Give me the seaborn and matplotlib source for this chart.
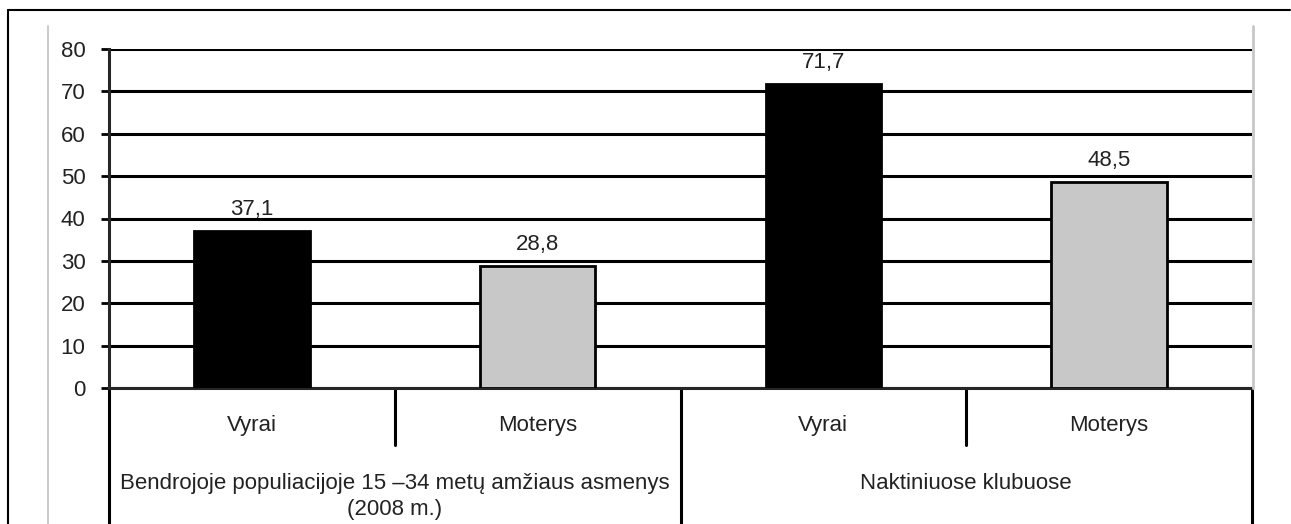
import matplotlib
matplotlib.use("Agg")
import matplotlib.pyplot as plt
import matplotlib.transforms as mtransforms
from matplotlib.lines import Line2D
import pandas as pd
import seaborn as sns

sns.set_style("white")
plt.rcParams['font.family'] = ['Liberation Sans', 'DejaVu Sans']

# data
bar_keys = ["g1_v", "g1_m", "g2_v", "g2_m"]
sub_labels = ["Vyrai", "Moterys", "Vyrai", "Moterys"]
group_labels = ["Bendrojoje populiacijoje 15 \u201334 metų amžiaus asmenys\n(2008 m.)",
                "Naktiniuose klubuose"]
values = [37.1, 28.8, 71.7, 48.5]
value_labels = ["37,1", "28,8", "71,7", "48,5"]
colors = ["#000000", "#c8c8c8", "#000000", "#c8c8c8"]

df = pd.DataFrame({"key": bar_keys, "value": values})

W, H = 1291, 524
FS = 16
fig = plt.figure(figsize=(W / 100, H / 100), dpi=100)
ax = fig.add_axes([109 / W, (H - 388) / H, (1252 - 109) / W, (388 - 49) / H])

sns.barplot(data=df, x="key", y="value", hue="key", order=bar_keys,
            palette=dict(zip(bar_keys, colors)), width=0.405,
            edgecolor="black", linewidth=2, legend=False, ax=ax, zorder=3)

ax.set_ylim(0, 80)
ax.set_xlim(-0.5, 3.5)
ax.set_yticks(range(0, 81, 10))
ax.yaxis.grid(True, color="black", linewidth=2.2)
ax.set_axisbelow(True)
ax.tick_params(axis="y", left=True, length=6, width=2, color="black",
               labelsize=FS, pad=11, labelcolor="#222222")
ax.set_xticks([])
ax.set_xlabel("")
ax.set_ylabel("")
for s in ["top", "right"]:
    ax.spines[s].set_visible(False)
ax.spines["left"].set_linewidth(2.2)
ax.spines["bottom"].set_linewidth(2.2)
ax.spines["left"].set_bounds(0, 80)

for i, (v, lab) in enumerate(zip(values, value_labels)):
    ax.text(i, v + 2.6, lab, ha="center", va="bottom", fontsize=FS,
            color="#222222", zorder=5)

# category table below the axis
tr = mtransforms.blended_transform_factory(ax.transData, ax.transAxes)
ax_h = 388 - 49
bot = -(H - 388) / ax_h
short = -57 / ax_h
for x, y0 in [(-0.5, bot), (0.5, short), (1.5, bot), (2.5, short), (3.5, bot)]:
    ax.add_line(Line2D([x, x], [0, y0], transform=tr, color="black",
                       linewidth=2.2, clip_on=False))

for i, lab in enumerate(sub_labels):
    ax.text(i, -37 / ax_h, lab, transform=tr, ha="center", va="center",
            fontsize=FS, color="#222222")
for g, lab in enumerate(group_labels):
    ax.text(0.5 + 2 * g, -85 / ax_h, lab, transform=tr, ha="center", va="top",
            fontsize=FS, color="#222222", linespacing=1.3)

# outer frame and inner light frame
fig.add_artist(Line2D([8 / W, 1290 / W], [1 - 10 / H, 1 - 10 / H], color="black", linewidth=1.5))
fig.add_artist(Line2D([8 / W, 8 / W], [0, 1 - 10 / H], color="black", linewidth=1.5))
fig.add_artist(Line2D([48 / W, 48 / W], [0, 1 - 26 / H], color="#c0c0c0", linewidth=1.2))
fig.add_artist(Line2D([1253 / W, 1253 / W], [(H - 388) / H, 1 - 26 / H], color="#c8c8c8", linewidth=2))

fig.savefig("out.png", dpi=100)
